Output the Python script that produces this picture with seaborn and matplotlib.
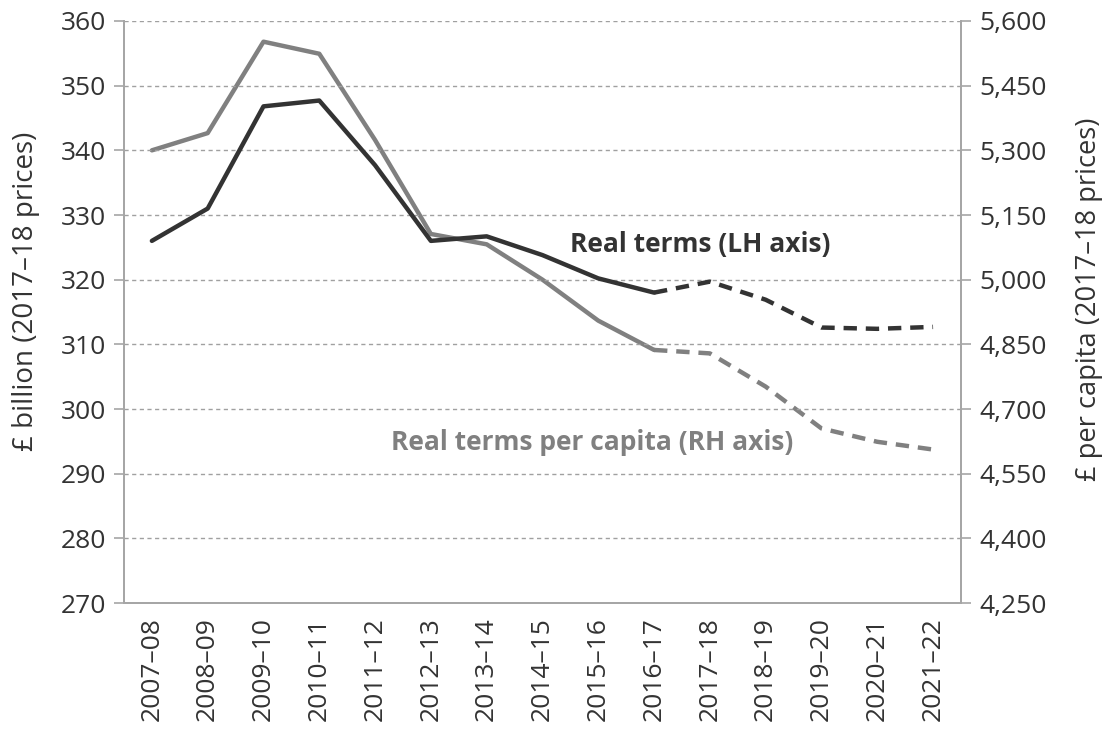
"""
Public service spending: real terms and real terms per capita, 2007-08 to 2021-22.
"""

import numpy as np
import pandas as pd
import matplotlib
matplotlib.use("Agg")
import matplotlib.pyplot as plt
from matplotlib.ticker import FuncFormatter, FixedLocator
import seaborn as sns

# ── data ──────────────────────────────────────────
years = ["2007–08", "2008–09", "2009–10", "2010–11", "2011–12", "2012–13",
         "2013–14", "2014–15", "2015–16", "2016–17", "2017–18", "2018–19",
         "2019–20", "2020–21", "2021–22"]
real_terms = [326.0, 331.0, 346.8, 347.7, 337.7, 326.0, 326.7, 323.8,
              320.2, 318.0, 319.7, 316.9, 312.6, 312.4, 312.7]
per_capita = [5300, 5340, 5552, 5524, 5324, 5106, 5082, 5000,
              4905, 4837, 4829, 4752, 4655, 4624, 4606]
left_ticks = list(range(270, 361, 10))
right_ticks = list(range(4250, 5601, 150))
last_outturn = 9  # 2016-17: solid up to here, dashed projection after

BLACK = "#333333"
GREY = "#808080"
AXIS = "#a6a6a6"
TEXT = "#333333"
FS = 19

sns.set_style("white")
plt.rcParams["font.family"] = ["Open Sans", "DejaVu Sans"]

df = pd.DataFrame({"pos": np.arange(len(years)), "year": years,
                   "real": real_terms, "pc": per_capita})
hist = df.iloc[:last_outturn + 1]
proj = df.iloc[last_outturn:]

fig = plt.figure(figsize=(11.09, 7.29), dpi=100)
ax = fig.add_axes([0.1118, 0.1728, 0.7547, 0.7984])
ax2 = ax.twinx()

# ── lines ────────────────────────────────────────
sns.lineplot(data=hist, x="pos", y="pc", ax=ax2, color=GREY, lw=3.2)
sns.lineplot(data=proj, x="pos", y="pc", ax=ax2, color=GREY, lw=3.2,
             linestyle=(0, (3, 2)))
sns.lineplot(data=hist, x="pos", y="real", ax=ax, color=BLACK, lw=3.2)
sns.lineplot(data=proj, x="pos", y="real", ax=ax, color=BLACK, lw=3.2,
             linestyle=(0, (3, 2)))

ax.set_zorder(ax2.get_zorder() + 1)
ax.patch.set_visible(False)

# ── axes ─────────────────────────────────────────
ax.set_xlim(-0.5, len(years) - 0.5)
ax.set_ylim(left_ticks[0], left_ticks[-1])
ax2.set_ylim(right_ticks[0], right_ticks[-1])
ax.yaxis.set_major_locator(FixedLocator(left_ticks))
ax2.yaxis.set_major_locator(FixedLocator(right_ticks))
ax2.yaxis.set_major_formatter(FuncFormatter(lambda v, _: f"{v:,.0f}"))

ax.xaxis.set_major_locator(FixedLocator(np.arange(len(years) + 1) - 0.5))
ax.xaxis.set_major_formatter(FuncFormatter(lambda v, _: ""))
ax.set_xticks(np.arange(len(years)), minor=True)
ax.set_xticklabels(years, minor=True, rotation=90)

ax.grid(axis="y", color="#a0a0a0", linestyle=(0, (3, 2.5)), lw=1)
ax2.grid(False)

for a in (ax, ax2):
    for side in a.spines:
        a.spines[side].set_color(AXIS)
        a.spines[side].set_linewidth(1.3)
    a.spines["top"].set_visible(False)
    a.tick_params(axis="both", which="major", direction="out", length=7,
                  width=1.2, color=AXIS, labelsize=FS, labelcolor=TEXT)
    a.set_xlabel("")
ax.tick_params(axis="x", which="minor", length=0, pad=10, labelsize=FS,
               labelcolor=TEXT)
ax.tick_params(axis="y", pad=6)
ax2.tick_params(axis="y", pad=6)

ax.set_ylabel("£ billion (2017–18 prices)", fontsize=20, color=TEXT, va="center")
ax2.set_ylabel("£ per capita (2017–18 prices)", fontsize=19.6, color=TEXT, va="center")
ax.yaxis.set_label_coords(-0.117, 0.536)
ax2.yaxis.set_label_coords(1.153, 0.521)

# ── annotations ──────────────────────────────────
ax.text(9.82, 325.4, "Real terms (LH axis)", fontsize=FS, fontweight="bold",
        color=BLACK, ha="center", va="center")
ax.text(7.89, 294.8, "Real terms per capita (RH axis)", fontsize=FS,
        fontweight="bold", color=GREY, ha="center", va="center")

fig.savefig("out.png", dpi=100)
plt.close(fig)
